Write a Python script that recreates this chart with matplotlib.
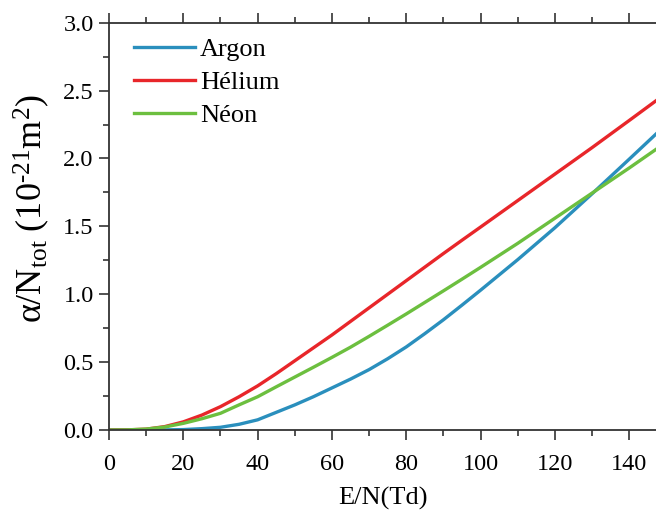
import matplotlib
matplotlib.use("Agg")
import matplotlib.pyplot as plt
from matplotlib.ticker import MultipleLocator

plt.rcParams["font.family"] = ["Liberation Serif", "DejaVu Serif"]
plt.rcParams["mathtext.fontset"] = "custom"
plt.rcParams["mathtext.rm"] = "Liberation Serif"
plt.rcParams["mathtext.it"] = "Liberation Serif:italic"

# reduced field E/N (Td)
en_td = [0, 5, 10, 15, 20, 25, 30, 35, 40, 45, 50, 55, 60, 65, 70, 75, 80, 85,
         90, 95, 100, 110, 120, 130, 140, 147.2]

# alpha / N_tot (1e-21 m^2)
argon = [0, 0, 0, 0.001, 0.003, 0.01, 0.02, 0.042, 0.075, 0.13, 0.185, 0.245,
         0.31, 0.375, 0.445, 0.525, 0.612, 0.71, 0.812, 0.92, 1.03, 1.255,
         1.49, 1.74, 1.995, 2.18]
helium = [0, 0.001, 0.006, 0.025, 0.06, 0.11, 0.172, 0.245, 0.325, 0.415,
          0.51, 0.605, 0.70, 0.80, 0.90, 1.0, 1.10, 1.20, 1.30, 1.398, 1.495,
          1.69, 1.885, 2.08, 2.28, 2.425]
neon = [0, 0.001, 0.007, 0.022, 0.049, 0.083, 0.123, 0.185, 0.245, 0.318,
        0.39, 0.462, 0.535, 0.61, 0.69, 0.772, 0.855, 0.94, 1.025, 1.111,
        1.198, 1.375, 1.56, 1.745, 1.93, 2.067]

series = [("Argon", argon, "#2a8fbd"),
          ("Hélium", helium, "#e8262a"),
          ("Néon", neon, "#6cbf3f")]

fig = plt.figure(figsize=(6.56, 5.13), dpi=100)
ax = fig.add_axes([109 / 656, 83 / 513, 547 / 656, 407.3 / 513])

for name, ys, col in series:
    ax.plot(en_td, ys, color=col, lw=2.4, label=name)

ax.set_xlim(0, 147.2)
ax.set_ylim(0, 3.0)
ax.xaxis.set_major_locator(MultipleLocator(20))
ax.xaxis.set_minor_locator(MultipleLocator(10))
ax.yaxis.set_major_locator(MultipleLocator(0.5))
ax.yaxis.set_minor_locator(MultipleLocator(0.25))
ax.yaxis.set_major_formatter(plt.FormatStrFormatter("%.1f"))

ax.spines["right"].set_visible(False)
for s in ("left", "bottom", "top"):
    ax.spines[s].set_linewidth(1.3)
    ax.spines[s].set_color("#333333")

ax.tick_params(which="both", direction="out", top=True, right=False,
               labeltop=False, width=1.2, colors="#333333", labelcolor="black")
ax.tick_params(which="major", length=7, labelsize=17.5)
ax.tick_params(which="minor", length=4)
ax.tick_params(axis="x", which="major", pad=10)
ax.tick_params(axis="y", which="major", pad=4)

ax.set_xlabel("E/N(Td)", fontsize=19, labelpad=9)
ax.set_ylabel(r"α/N$_{\mathrm{tot}}$ (10$^{\text{-21}}$m$^{2}$)", fontsize=26)
ax.yaxis.set_label_coords(-0.105, 0.543)

ax.legend(loc="upper left", bbox_to_anchor=(0.002, 1.022), frameon=False,
          fontsize=19, handlelength=2.3, handletextpad=0.2, labelspacing=0.36)

fig.savefig("out.png", dpi=100)
